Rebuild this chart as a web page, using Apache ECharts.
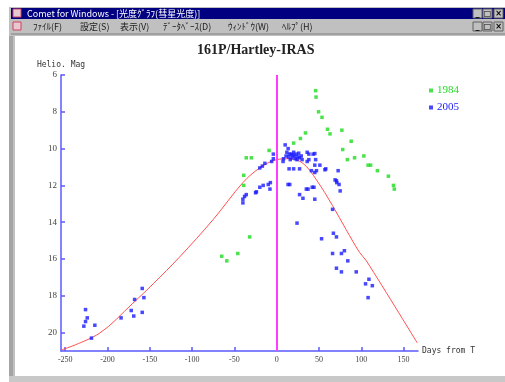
<!DOCTYPE html>
<html>
<head>
<meta charset="utf-8">
<title>161P/Hartley-IRAS</title>
<script src="https://cdn.jsdelivr.net/npm/echarts@6/dist/echarts.min.js"></script>
<style>
  html, body { margin: 0; padding: 0; background: #ffffff; }
  #chart { width: 505px; height: 382px; }
</style>
</head>
<body>
<div id="chart"></div>
<script>
// Observations: [days from perihelion T, heliocentric magnitude]
const obs1984 = [
  [-65, 15.85], [-59, 16.1], [-46, 15.7], [-32, 14.8], [-39, 12.0], [-39, 11.45],
  [-36, 10.5], [-30, 10.5], [-9, 10.1], [20, 9.7], [28, 9.45], [34, 9.15],
  [46, 6.85], [46.5, 7.2], [49.5, 8.0], [53.5, 8.3], [60, 8.95], [63, 9.2],
  [77, 9.0], [88, 9.6], [78, 10.05], [83.5, 10.6], [92, 10.5], [103, 10.4],
  [108, 10.9], [111, 10.9], [119, 11.2], [132, 11.5], [138, 12.0], [139, 12.2]
];

const obs2005 = [
  [-226, 18.75], [-224, 19.2], [-226, 19.4], [-228, 19.65], [-215, 19.6], [-219, 20.3],
  [-184, 19.2], [-172, 18.8], [-169, 19.1], [-168, 18.2], [-159, 17.6], [-157, 18.1], [-159, 18.9],
  [-40, 12.95], [-40, 12.75], [-38, 12.6], [-36, 12.5], [-24, 12.35], [-25, 12.4],
  [-20, 12.1], [-16, 12.0], [-10, 11.95], [-8, 12.2], [-7.5, 11.85],
  [-20, 11.05], [-17, 10.95], [-14, 10.8], [-6, 10.7], [-4, 10.55], [-4, 10.3],
  [10, 9.8], [13.5, 10.0], [12, 10.2], [15, 10.3], [17, 10.3], [19, 10.35], [21, 10.4],
  [23, 10.3], [25, 10.45], [14, 10.45], [18, 10.5], [22, 10.55], [27, 10.5], [16, 10.6],
  [11, 10.4], [20, 10.2], [24, 10.6], [29, 10.4], [8, 10.55], [30, 10.6], [26, 10.25],
  [7.5, 10.7], [14.6, 11.1], [20, 11.1], [27, 11.1], [13.4, 11.95], [15.4, 11.95],
  [36, 10.2], [38, 10.3], [43, 10.3], [45, 10.27], [36, 10.7], [38, 10.6], [46, 10.6],
  [45, 10.9], [41, 11.2], [45, 11.3], [47, 11.2], [51, 10.9], [57, 11.15], [58, 11.1],
  [72.6, 11.2], [69, 11.7], [70.6, 11.75], [71, 11.85], [73.7, 11.95], [75, 12.3],
  [35, 12.2], [37, 12.2], [42, 12.1], [44, 12.1], [27, 12.5], [31, 12.7], [45, 12.75],
  [66, 13.3], [24, 14.05], [53, 14.9], [67, 14.6], [70.6, 14.8], [66, 15.7],
  [76.5, 15.7], [80, 15.55], [84, 16.1], [70.6, 16.5], [76.5, 16.7], [94, 16.7],
  [109, 17.1], [105, 17.35], [113, 17.45], [108, 18.1]
];

// Predicted light curve
const modelCurve = [
  [-255, 20.95], [-210, 20.05], [-170, 18.4], [-146, 17.35], [-115, 15.9],
  [-75, 13.85], [-40, 11.85], [-20, 11.05], [0, 10.6], [15, 10.55], [31, 10.8],
  [47, 11.7], [66, 13.1], [82, 14.4], [98, 15.65], [106, 16.1], [166, 20.55]
];

const xTickValues = [-250, -200, -150, -100, -50, 0, 50, 100, 150];
const yTickValues = [6, 8, 10, 12, 14, 16, 18, 20];

const windowTitle = 'Comet for Windows - [光度ｸﾞﾗﾌ(彗星光度)]';
const menuItems = [
  ['ﾌｧｲﾙ(F)', 33], ['設定(S)', 80], ['表示(V)', 120],
  ['ﾃﾞｰﾀﾍﾞｰｽ(D)', 163], ['ｳｨﾝﾄﾞｳ(W)', 228], ['ﾍﾙﾌﾟ(H)', 282]
];

const AXIS_BLUE = '#5a5aff';
const GREEN = '#1edc1e';
const BLUE = '#1a1aff';
const uiFont = '9px "Noto Sans CJK JP", sans-serif';

function button(x, y, glyph) {
  return [
    { type: 'rect', shape: { x: x, y: y, width: 9, height: 9 },
      style: { fill: '#c0c0c0', stroke: '#606060', lineWidth: 1 }, z: 10 },
    { type: 'text', x: x + 4.5, y: y + 4.5,
      style: { text: glyph, fill: '#000', font: 'bold 8px "DejaVu Sans", sans-serif',
               align: 'center', verticalAlign: 'middle' }, z: 11 }
  ];
}

const chrome = [
  // outer frame
  { type: 'rect', shape: { x: 9, y: 7, width: 496, height: 375 },
    style: { fill: '#c0c0c0' }, z: -10 },
  { type: 'rect', shape: { x: 15, y: 36, width: 490, height: 340 },
    style: { fill: '#ffffff' }, z: -9 },
  { type: 'rect', shape: { x: 9, y: 36, width: 4, height: 346 },
    style: { fill: '#a4a4a4' }, z: -8 },
  // title bar
  { type: 'rect', shape: { x: 11, y: 8, width: 494, height: 11 },
    style: { fill: '#000080' }, z: 5 },
  { type: 'rect', shape: { x: 13, y: 9, width: 8, height: 8 },
    style: { fill: '#e8c8d0', stroke: '#d04060', lineWidth: 1 }, z: 6 },
  { type: 'text', x: 27, y: 13.5,
    style: { text: windowTitle, fill: '#ffffff', font: uiFont, verticalAlign: 'middle' }, z: 6 },
  // menu bar
  { type: 'rect', shape: { x: 11, y: 20, width: 494, height: 13 },
    style: { fill: '#c0c0c0' }, z: 5 },
  { type: 'rect', shape: { x: 13, y: 22, width: 8, height: 8 },
    style: { fill: '#e8c8d0', stroke: '#d04060', lineWidth: 1 }, z: 6 },
  { type: 'line', shape: { x1: 11, y1: 34, x2: 505, y2: 34 },
    style: { stroke: '#808080', lineWidth: 1 }, z: 5 },
  { type: 'rect', shape: { x: 9, y: 376, width: 496, height: 6 },
    style: { fill: '#c8c8c8' }, z: 5 }
];
menuItems.forEach(function (m) {
  chrome.push({ type: 'text', x: m[1], y: 26.5,
    style: { text: m[0], fill: '#202020', font: uiFont, verticalAlign: 'middle' }, z: 6 });
});
[['_', 473], ['□', 483], ['×', 494]].forEach(function (b) {
  button(b[1], 9, b[0]).forEach(function (e) { chrome.push(e); });
  button(b[1], 22, b[0]).forEach(function (e) { chrome.push(e); });
});

const chart = echarts.init(document.getElementById('chart'), null, { renderer: 'canvas' });

chart.setOption({
  animation: false,
  backgroundColor: '#ffffff',
  title: {
    text: '161P/Hartley-IRAS',
    left: 197, top: 43, padding: 0,
    textStyle: { fontFamily: 'Liberation Serif', fontWeight: 'bold', fontSize: 14, color: '#222' }
  },
  legend: {
    orient: 'vertical', left: 424, top: 80, itemWidth: 4, itemHeight: 4, itemGap: 6,
    icon: 'rect',
    textStyle: { fontFamily: 'Liberation Serif', fontSize: 11, padding: [0, 0, 0, -1] },
    data: [
      { name: '1984', textStyle: { color: GREEN } },
      { name: '2005', textStyle: { color: BLUE } }
    ]
  },
  grid: { left: 61, top: 75, width: 357, height: 276 },
  xAxis: {
    type: 'value', min: -255, max: 167,
    name: 'Days from T', nameLocation: 'end', nameGap: 4,
    nameTextStyle: { fontFamily: 'DejaVu Sans Mono', fontSize: 8, color: '#333',
                     align: 'left', verticalAlign: 'middle' },
    axisLine: { onZero: false, lineStyle: { color: AXIS_BLUE, width: 1.5 } },
    axisTick: { inside: true, length: 4, customValues: xTickValues,
                lineStyle: { color: AXIS_BLUE, width: 1.5 } },
    axisLabel: { customValues: xTickValues, margin: 5, fontSize: 8,
                 fontFamily: 'Liberation Serif', color: '#444' },
    splitLine: { show: false }
  },
  yAxis: {
    type: 'value', inverse: true, min: 6, max: 21,
    name: 'Helio. Mag', nameLocation: 'start', nameGap: 6,
    nameTextStyle: { fontFamily: 'DejaVu Sans Mono', fontSize: 8, color: '#333', align: 'center' },
    axisLine: { onZero: false, lineStyle: { color: AXIS_BLUE, width: 1.5 } },
    axisTick: { inside: true, length: 4, customValues: yTickValues,
                lineStyle: { color: AXIS_BLUE, width: 1.5 } },
    axisLabel: { customValues: yTickValues, margin: 4, fontSize: 9,
                 fontFamily: 'Liberation Serif', color: '#444' },
    splitLine: { show: false }
  },
  series: [
    {
      name: 'model', type: 'line', data: modelCurve, smooth: 0.35,
      showSymbol: false, silent: true,
      lineStyle: { color: '#ff5050', width: 1 },
      markLine: {
        silent: true, symbol: 'none', label: { show: false },
        lineStyle: { color: '#ff3cff', width: 2, type: 'solid' },
        data: [{ xAxis: 0 }]
      },
      z: 2
    },
    {
      name: '1984', type: 'scatter', data: obs1984,
      symbol: 'rect', symbolSize: 3.5, itemStyle: { color: GREEN }, z: 3
    },
    {
      name: '2005', type: 'scatter', data: obs2005,
      symbol: 'rect', symbolSize: 3.5, itemStyle: { color: BLUE }, z: 4
    }
  ],
  graphic: chrome
});
</script>
</body>
</html>
